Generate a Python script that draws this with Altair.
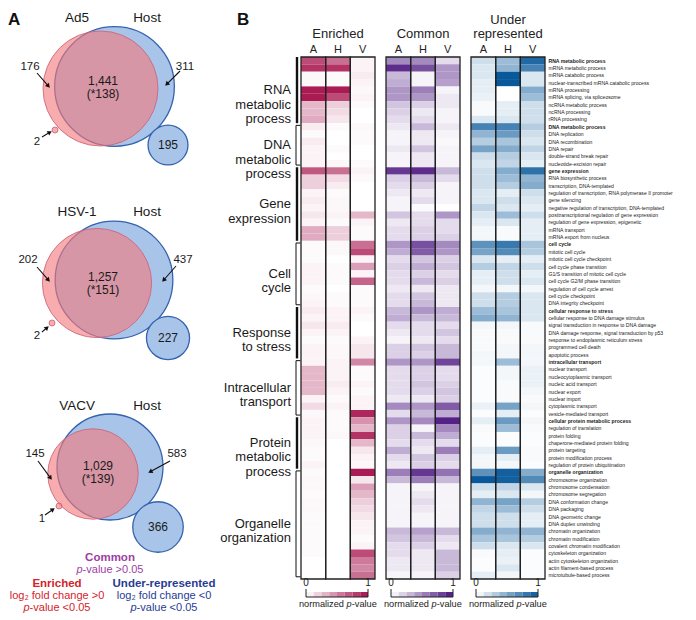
import math
import json
import altair as alt
import pandas as pd

# ---------------- Panel B: GO terms and normalized p-values ----------------
terms = [
    "RNA metabolic process", "mRNA metabolic process", "mRNA catabolic process",
    "nuclear-transcribed mRNA catabolic process", "mRNA processing", "mRNA splicing, via spliceosome",
    "ncRNA metabolic process", "ncRNA processing", "rRNA processing",
    "DNA metabolic process", "DNA replication", "DNA recombination", "DNA repair",
    "double-strand break repair", "nucleotide-excision repair",
    "gene expression", "RNA biosynthetic process", "transcription, DNA-templated",
    "regulation of transcription, RNA polymerase II promoter", "gene silencing",
    "negative regulation of transcription, DNA-templated",
    "posttranscriptional regulation of gene expression", "regulation of gene expression, epigenetic",
    "mRNA transport", "mRNA export from nucleus",
    "cell cycle", "mitotic cell cycle", "mitotic cell cycle checkpoint", "cell cycle phase transition",
    "G1/S transition of mitotic cell cycle", "cell cycle G2/M phase transition",
    "regulation of cell cycle arrest", "cell cycle checkpoint", "DNA integrity checkpoint",
    "cellular response to stress", "cellular response to DNA damage stimulus",
    "signal transduction in response to DNA damage", "DNA damage response, signal transduction by p53",
    "response to endoplasmic reticulum stress", "programmed cell death", "apoptotic process",
    "intracellular transport", "nuclear transport", "nucleocytoplasmic transport",
    "nucleic acid transport", "nuclear export", "nuclear import", "cytoplasmic transport",
    "vesicle-mediated transport",
    "cellular protein metabolic process", "regulation of translation", "protein folding",
    "chaperone-mediated protein folding", "protein targeting", "protein modification process",
    "regulation of protein ubiquitination",
    "organelle organization", "chromosome organization", "chromosome condensation",
    "chromosome segregation", "DNA conformation change", "DNA packaging", "DNA geometric change",
    "DNA duplex unwinding", "chromatin organization", "chromatin modification",
    "covalent chromatin modification", "cytoskeleton organization", "actin cytoskeleton organization",
    "actin filament-based process", "microtubule-based process",
]
group_labels = ["RNA\nmetabolic\nprocess", "DNA\nmetabolic\nprocess", "Gene\nexpression", "Cell\ncycle",
                "Response\nto stress", "Intracellular\ntransport", "Protein\nmetabolic\nprocess",
                "Organelle\norganization"]
group_sizes = [9, 6, 10, 9, 7, 8, 7, 15]

enriched_A = [.75,.85,.03,.03,.95,.95,.3,.3,.35, .08,.02,.08,.05,.05,.05,
              .7,.2,.2,.05,.08,.05,.1,.05,.35,.35, .02,.02,.02,.05,.05,.05,.02,.03,.05,
              .08,.05,.1,.05,.02,.05,.05, .05,.3,.3,.3,.3,.05,.15,.03,
              .05,.05,.05,.03,.02,.02,.05, .02,.03,.03,.02,.03,.03,.02,.02,.02,.02,.02,.02,0,0,0]
enriched_H = [.6,.85,.02,.02,.95,.75,.2,.15,.1, .02,0,0,.02,0,.03,
              .6,.15,.08,.02,.03,.03,.05,.02,.2,.2, .03,.03,0,.02,.02,.02,0,.02,.02,
              .05,.05,.08,.05,.02,.03,.03, .05,.05,.05,.08,.05,.02,.05,.02,
              .02,.02,.03,0,0,0,0, 0,0,0,0,0,0,0,0,0,0,0,0,0,0,0]
enriched_V = [.05,.05,.08,.05,.03,.05,.02,0,0, .03,.02,.02,0,0,.02,
              .05,.02,0,0,0,0,.3,.05,.02,.02, .6,.75,.05,.4,.05,.65,.02,.02,.02,
              .05,.02,0,0,.05,.1,.1, .5,.02,.02,.05,.02,.05,.05,.9,
              .45,.3,.85,.3,.1,.05,.03, .95,.1,.4,.3,.2,.15,.1,.05,.05,.02,.05,.75,.55,.5,.6]
common_A = [.5,.9,.3,.35,.45,.45,.25,.2,.15, .1,.05,.05,.1,.05,.05,
            .85,.2,.15,.1,.05,.05,.25,.1,.15,.15, .45,.35,.15,.2,.15,.15,.1,.15,.15,
            .3,.35,.15,.1,.05,.2,.2, .45,.15,.15,.15,.15,.1,.5,.15,
            .45,.2,.2,.15,.35,.15,.1, .55,.3,.05,.05,.05,.05,.05,.05,.3,.25,.15,.15,.1,.1,.05]
common_H = [.5,.75,.05,.05,.55,.45,.2,.1,.15, .3,.1,.1,.25,.1,.1,
            .9,.3,.2,.1,.15,.02,.15,.15,.2,.2, .75,.7,.25,.35,.2,.3,.1,.25,.3,
            .45,.3,.15,.15,.1,.25,.2, .45,.2,.2,.25,.2,.1,.45,.3,
            .5,.05,.3,.15,.1,.25,.2, .85,.55,.05,.1,.15,.1,.05,.05,.4,.3,.2,.1,.1,.1,.05]
common_V = [.15,.45,.45,.4,.05,.1,.1,.05,.05, .1,.05,.03,.05,.05,.05,
            .3,.15,.05,.05,.05,0,.45,.15,.15,.2, .5,.45,.2,.25,.15,.2,.1,.1,.1,
            .35,.3,.15,.25,.15,.3,.3, .8,.15,.15,.2,.25,.2,.7,.35,
            .95,.5,.35,.15,.55,.2,.15, .6,.3,.05,.05,.05,.05,.05,.05,.3,.15,.1,.3,.3,.3,.2]
under_A = [.2,.15,.15,.1,.1,.08,.03,.03,.15, .75,.45,.3,.55,.2,.15,
           .2,.2,.2,.15,.15,.25,.15,.1,.05,.05, .65,.55,.15,.3,.1,.1,.05,.2,.2,
           .4,.5,.05,.03,.03,.03,.05, .05,.02,.02,.02,.02,.02,.08,.02,
           .1,.03,.02,.02,.1,.05,.05, .65,1.0,.2,.1,.45,.25,.2,.2,.5,.35,.2,.03,.02,.02,.1]
under_H = [.4,.45,1.0,1.0,0,0,.1,.1,.15, .75,.6,.35,.5,.3,.25,
           .5,.4,.3,.1,.2,.15,.4,.15,.03,.03, .8,.7,.1,.25,.2,.2,.05,.3,.3,
           .35,.45,.05,.03,.03,.05,.05, .4,.05,.05,.03,.03,.03,.55,.1,
           .6,.4,.02,.02,.6,.1,.05, .95,.95,.25,.15,.55,.4,.2,.2,.45,.35,.15,.1,.08,.15,.05]
under_V = [.9,.75,.15,.15,.5,.4,.2,.2,.2, .3,.2,.15,.25,.15,.1,
           .85,.45,.5,.2,.15,.1,.2,.1,.1,.1, .35,.3,.1,.2,.1,.15,.05,.15,.15,
           .15,.15,.03,.03,.03,.05,.05, .05,.08,.08,.08,.05,.03,.05,.02,
           .05,.03,.02,.02,.03,.03,.02, .5,.7,.15,.05,.3,.2,.1,.1,.45,.3,.15,.02,.02,.02,.02]

# ---------------- Panel A: Venn counts ----------------
venn_sets = ["Ad5", "HSV-1", "VACV"]
shared_terms = [1441, 1257, 1029]
shared_sig = [138, 151, 139]
virus_only = [176, 202, 145]
host_only = [311, 437, 583]
virus_extra = [2, 2, 1]
host_extra = [195, 227, 366]

# ---------------- layout (pixels, reference image coordinates) ----------------
FONT = "Liberation Sans"
H = 522            # heat map height
TOPPAD = 3
OX, OY = 8, 50 + TOPPAD   # origin of the left panel view in image coordinates
def px(x): return x - OX
def py(y): return y - OY

k_scale = [1.43, 1.43, 1.32]
blue_c = [(114.5, 82.5), (114, 276), (110, 463)]
red_c = [(100.5, 84.5), (97, 279), (93, 470)]
hx_c = [(168, 141), (168, 334), (158, 523)]
tiny_c = [(55, 126), (52, 319), (59, 502)]
title_y = [14, 208, 402]
share_pos = [(103, 77), (103, 273), (98, 462)]
vo_pos = [(30, 63), (28, 256), (35, 450)]
ho_pos = [(185, 63), (183, 256), (177, 450)]
tl_pos = [(37, 138), (37, 332), (42, 515)]
arrows = [(37, 69, 50, 84), (180, 67, 165, 82), (42, 133, 52, 127),
          (37, 263, 50, 278), (176, 262, 162, 278), (42, 328, 49, 322),
          (38, 457, 52, 476), (170, 457, 148, 469), (45, 511, 55, 504)]

def diam2(k, n, rmin=0):
    r = max(k * math.sqrt(n), rmin)
    return (2 * r) ** 2

blue_rows, red_rows, txt_rows = [], [], []
for i in range(3):
    k = k_scale[i]
    blue_rows.append({"x": px(blue_c[i][0]), "y": py(blue_c[i][1]), "s": diam2(k, shared_terms[i] + host_only[i])})
    blue_rows.append({"x": px(hx_c[i][0]), "y": py(hx_c[i][1]), "s": diam2(k, host_extra[i])})
    red_rows.append({"x": px(red_c[i][0]), "y": py(red_c[i][1]), "s": diam2(k, shared_terms[i] + virus_only[i])})
    red_rows.append({"x": px(tiny_c[i][0]), "y": py(tiny_c[i][1]), "s": diam2(k, virus_extra[i], 3)})
    txt_rows += [
        {"x": px(77), "y": py(title_y[i]), "t": venn_sets[i], "fs": 13.5},
        {"x": px(147), "y": py(title_y[i]), "t": "Host", "fs": 13.5},
        {"x": px(share_pos[i][0]), "y": py(share_pos[i][1]), "t": f"{shared_terms[i]:,}", "fs": 12},
        {"x": px(share_pos[i][0]), "y": py(share_pos[i][1] + 13), "t": f"(*{shared_sig[i]})", "fs": 12},
        {"x": px(vo_pos[i][0]), "y": py(vo_pos[i][1]), "t": str(virus_only[i]), "fs": 11.5},
        {"x": px(ho_pos[i][0]), "y": py(ho_pos[i][1]), "t": str(host_only[i]), "fs": 11.5},
        {"x": px(tl_pos[i][0]), "y": py(tl_pos[i][1]), "t": str(virus_extra[i]), "fs": 11.5},
        {"x": px(hx_c[i][0]), "y": py(hx_c[i][1]), "t": str(host_extra[i]), "fs": 12},
    ]

line_rows, head_rows = [], []
for (x0, y0, x1, y1) in arrows:
    dx, dy = x1 - x0, y1 - y0
    L = math.hypot(dx, dy)
    ux, uy = dx / L, dy / L
    ang = math.degrees(math.atan2(dx, -dy)) % 360
    line_rows.append({"x": px(x0), "y": py(y0), "x2": px(x1 - ux * 3), "y2": py(y1 - uy * 3)})
    head_rows.append({"x": px(x1 - ux * 2.5), "y": py(y1 - uy * 2.5), "a": ang})

XS = alt.X("x:Q", scale=None, axis=None)
YS = alt.Y("y:Q", scale=None, axis=None)

blue = alt.Chart(pd.DataFrame(blue_rows)).mark_circle(
    fill="#a8c5e9", stroke="#3562ae", strokeWidth=1.3, opacity=1).encode(
    x=XS, y=YS, size=alt.Size("s:Q", scale=None, legend=None))
red = alt.Chart(pd.DataFrame(red_rows)).mark_circle(
    fill="#f3797a", fillOpacity=0.62, stroke="#c8607a", strokeWidth=0.9, strokeOpacity=0.9, opacity=1).encode(
    x=XS, y=YS, size=alt.Size("s:Q", scale=None, legend=None))
vtext = alt.Chart(pd.DataFrame(txt_rows)).mark_text(color="#1a1a1a", baseline="middle", align="center").encode(
    x=XS, y=YS, text="t:N", size=alt.Size("fs:Q", scale=None, legend=None))
alines = alt.Chart(pd.DataFrame(line_rows)).mark_rule(color="#111", strokeWidth=1.1).encode(
    x=XS, y=YS, x2="x2:Q", y2="y2:Q")
aheads = alt.Chart(pd.DataFrame(head_rows)).mark_point(
    shape="triangle-up", filled=True, color="#111", size=26, opacity=1).encode(
    x=XS, y=YS, angle=alt.Angle("a:Q", scale=None))
letters = alt.Chart(pd.DataFrame([{"x": 0, "y": py(8), "t": "A"}, {"x": px(237), "y": py(8), "t": "B"}])).mark_text(
    fontSize=17, fontWeight="bold", align="left", baseline="top", color="#111").encode(x=XS, y=YS, text="t:N")

# legend of the Venn colours (bottom left)
leg_bold = pd.DataFrame([
    {"x": px(110), "y": py(554), "t": "Common", "c": "#9d3ea3"},
    {"x": px(57), "y": py(580), "t": "Enriched", "c": "#d3232b"},
    {"x": px(164), "y": py(580), "t": "Under-represented", "c": "#283c93"},
])
leg_norm = pd.DataFrame([
    {"x": px(57), "y": py(592), "t": "log\u2082 fold change >0", "c": "#d3232b"},
    {"x": px(164), "y": py(592), "t": "log\u2082 fold change <0", "c": "#283c93"},
])
pv = [(110, 566, "-value >0.05", "#9d3ea3"), (57, 604, "-value <0.05", "#d3232b"), (164, 604, "-value <0.05", "#283c93")]
leg_p = pd.DataFrame([{"x": px(xc - 27.4), "y": py(y), "t": "p", "c": c} for xc, y, r, c in pv])
leg_r = pd.DataFrame([{"x": px(xc - 27.4), "y": py(y), "t": r, "c": c} for xc, y, r, c in pv])
CS = alt.Color("c:N", scale=None, legend=None)
l1 = alt.Chart(leg_bold).mark_text(fontSize=11.5, fontWeight="bold", baseline="middle").encode(x=XS, y=YS, text="t:N", color=CS)
l2 = alt.Chart(leg_norm).mark_text(fontSize=11, baseline="middle").encode(x=XS, y=YS, text="t:N", color=CS)
l3 = alt.Chart(leg_p).mark_text(fontSize=11, fontStyle="italic", align="right", baseline="middle").encode(x=XS, y=YS, text="t:N", color=CS)
l4 = alt.Chart(leg_r).mark_text(fontSize=11, align="left", baseline="middle").encode(x=XS, y=YS, text="t:N", color=CS)

# group labels and brackets (share the heat map row geometry)
starts, heads = [], []
s = 0
for n in group_sizes:
    starts.append(s)
    heads.append(terms[s])
    s += n
rowscale = alt.Scale(domain=[0, len(terms)], range=[0, H])
grp_df = pd.DataFrame({"mid": [st + n / 2 for st, n in zip(starts, group_sizes)], "t": group_labels})
glabels = alt.Chart(grp_df).mark_text(align="right", baseline="middle", lineBreak="\n", fontSize=13,
                                      lineHeight=14.5, color="#1a1a1a").encode(
    x=alt.value(px(291)), y=alt.Y("mid:Q", scale=rowscale, axis=None), text="t:N")
thick = pd.DataFrame([{"y0": st, "y1": st + n} for i, (st, n) in enumerate(zip(starts, group_sizes)) if i % 2 == 0])
thin = pd.DataFrame([{"y0": st + 0.3, "y1": st + n - 0.3} for i, (st, n) in enumerate(zip(starts, group_sizes)) if i % 2 == 1])
tick_df = pd.DataFrame({"yt": list(thin["y0"]) + list(thin["y1"])})
br1 = alt.Chart(thick).mark_rule(color="#111", strokeWidth=2.4).encode(
    x=alt.value(px(297)), y=alt.Y("y0:Q", scale=rowscale, axis=None), y2="y1:Q")
br2 = alt.Chart(thin).mark_rule(color="#111", strokeWidth=1).encode(
    x=alt.value(px(296)), y=alt.Y("y0:Q", scale=rowscale, axis=None), y2="y1:Q")
br3 = alt.Chart(tick_df).mark_rule(color="#111", strokeWidth=1).encode(
    x=alt.value(px(296)), x2=alt.value(px(300.5)), y=alt.Y("yt:Q", scale=rowscale, axis=None))

venn = alt.layer(blue, red, alines, aheads, vtext, letters, l1, l2, l3, l4, glabels, br1, br2, br3).properties(
    width=px(301), height=H)

# ---------------- heat map panels ----------------
bold_test = "indexof(" + json.dumps(heads) + ", datum.value) >= 0"
cb_df = pd.DataFrame({"lo": [i / 8 for i in range(8)], "hi": [(i + 1) / 8 for i in range(8)],
                      "v": [(i + 0.5) / 8 for i in range(8)]})
ends = pd.DataFrame({"t": [0, 1], "s": ["0", "1"]})


def heat_panel(title, cols, dark, right_axis):
    rows = []
    for c, vals in zip(["A", "H", "V"], cols):
        for t, v in zip(terms, vals):
            rows.append({"term": t, "col": c, "v": v})
    df = pd.DataFrame(rows)
    cscale = alt.Scale(domain=[0, 1], range=["#ffffff", dark], interpolate="rgb")
    xs = alt.Scale(domain=["A", "H", "V"], paddingInner=0, paddingOuter=0)
    ys = alt.Scale(domain=terms, paddingInner=0, paddingOuter=0)
    if right_axis:
        yax = alt.Axis(orient="right", title=None, ticks=False, domain=False, labelFontSize=5.1,
                       labelPadding=3, labelLimit=138, labelColor="#1a1a1a",
                       labelFontWeight={"condition": {"test": bold_test, "value": "bold"}, "value": "normal"})
    else:
        yax = None
    cells = alt.Chart(df).mark_rect().encode(
        x=alt.X("col:N", scale=xs, axis=alt.Axis(orient="top", title=None, ticks=False, domain=False,
                                                  labelAngle=0, labelFontSize=11, labelPadding=3,
                                                  labelColor="#222")),
        y=alt.Y("term:N", scale=ys, axis=yax),
        color=alt.Color("v:Q", scale=cscale, legend=None))
    frame = alt.Chart(pd.DataFrame({"col": ["A", "H", "V"]})).mark_rect(
        fillOpacity=0, stroke="#222", strokeWidth=1.3).encode(
        x=alt.X("col:N", scale=xs, axis=None), y=alt.value(0), y2=alt.value(H))
    cbx = alt.Scale(domain=[0, 1], range=[5, 67])
    bar = alt.Chart(cb_df).mark_rect().encode(
        x=alt.X("lo:Q", scale=cbx, axis=None), x2="hi:Q", y=alt.value(H + 13), y2=alt.value(H + 18),
        color=alt.Color("v:Q", scale=cscale, legend=None))
    cticks = alt.Chart(ends).mark_rule(color="#222", strokeWidth=1).encode(
        x=alt.X("t:Q", scale=cbx, axis=None), y=alt.value(H + 10), y2=alt.value(H + 18))
    cbase = alt.Chart(pd.DataFrame({"a": [0], "b": [1]})).mark_rule(color="#222", strokeWidth=1.2).encode(
        x=alt.X("a:Q", scale=cbx, axis=None), x2="b:Q", y=alt.value(H + 18))
    nums = alt.Chart(ends).mark_text(fontSize=10, baseline="bottom", color="#222").encode(
        x=alt.X("t:Q", scale=cbx, axis=None), y=alt.value(H + 9), text="s:N")
    t1 = alt.Chart(pd.DataFrame({"s": ["normalized "]})).mark_text(fontSize=9.2, align="left", baseline="middle",
                                                                   color="#222").encode(
        x=alt.value(-2), y=alt.value(H + 25), text="s:N")
    t2 = alt.Chart(pd.DataFrame({"s": ["p"]})).mark_text(fontSize=9.2, fontStyle="italic", align="left",
                                                         baseline="middle", color="#222").encode(
        x=alt.value(45.6), y=alt.value(H + 25), text="s:N")
    t3 = alt.Chart(pd.DataFrame({"s": ["-value"]})).mark_text(fontSize=9.2, align="left", baseline="middle",
                                                              color="#222").encode(
        x=alt.value(50.8), y=alt.value(H + 25), text="s:N")
    tp = alt.TitleParams(text=title, fontSize=13, fontWeight="normal", offset=2, anchor="middle",
                         color="#222", lineHeight=14)
    return alt.layer(cells, frame, bar, cticks, cbase, nums, t1, t2, t3).resolve_scale(
        x="independent").properties(width=74, height=H, title=tp)


E = heat_panel("Enriched", [enriched_A, enriched_H, enriched_V], "#a50f4a", False)
C = heat_panel("Common", [common_A, common_H, common_V], "#4b1580", False)
U = heat_panel(["Under", "represented"], [under_A, under_H, under_V], "#08589a", True)

heat = alt.hconcat(E, C, U, spacing=11, bounds="flush").resolve_scale(
    color="independent", x="independent", y="independent")

chart = alt.hconcat(venn, heat, spacing=0, bounds="flush").resolve_scale(
    x="independent", y="independent", color="independent", size="independent"
).properties(padding={"top": TOPPAD, "left": 0, "right": 0, "bottom": 0}).configure(
    font=FONT).configure_view(stroke=None)

chart.save("out.html", embed_options={"renderer": "svg", "actions": False})
